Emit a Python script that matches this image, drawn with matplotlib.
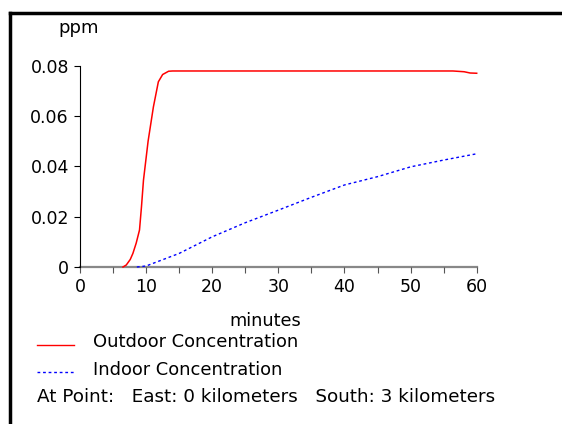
import matplotlib
matplotlib.use("Agg")
import matplotlib.pyplot as plt
from matplotlib.lines import Line2D
from matplotlib.ticker import MultipleLocator

# Data
out_t = [6.5, 7.0, 7.6, 8.0, 8.5, 9.0, 9.3, 9.6, 10.3, 11.1, 11.85, 12.5, 13.4, 14.0, 56.4, 58.1, 59.0, 60.0]
out_c = [0, 0.0008, 0.0030, 0.0054, 0.0095, 0.0147, 0.024, 0.0345, 0.050, 0.0636, 0.0736, 0.0765, 0.0778, 0.0779, 0.0779, 0.0776, 0.0771, 0.0770]

in_t = [8.6, 10, 15, 20, 25, 30, 35, 40, 45, 50, 55, 60]
in_c = [0, 0.0004, 0.0054, 0.0120, 0.0176, 0.0226, 0.0277, 0.0326, 0.0359, 0.0398, 0.0425, 0.0450]

x_ticks = [0, 10, 20, 30, 40, 50, 60]
y_ticks = [0, 0.02, 0.04, 0.06, 0.08]
y_labels = ["0", "0.02", "0.04", "0.06", "0.08"]

fig = plt.figure(figsize=(5.62, 4.24), dpi=100)
ax = fig.add_axes([80 / 562, 1 - 267 / 424, 396.7 / 562, 201.3 / 424])

ax.plot(out_t, out_c, color="#ff0000", lw=1.1, clip_on=False)
ax.plot(in_t, in_c, color="#0000ff", lw=1.0, ls=(0, (2, 2)), clip_on=False)

ax.set_xlim(0, 60)
ax.set_ylim(0, 0.08)
ax.set_xticks(x_ticks)
ax.set_xticklabels([str(v) for v in x_ticks])
ax.xaxis.set_minor_locator(MultipleLocator(5))
ax.set_yticks(y_ticks)
ax.set_yticklabels(y_labels)

for s in ["top", "right"]:
    ax.spines[s].set_visible(False)
ax.spines["left"].set_color("black")
ax.spines["left"].set_linewidth(0.8)
ax.spines["bottom"].set_color("#888888")
ax.spines["bottom"].set_linewidth(1.6)
ax.spines["bottom"].set_zorder(0)

ax.tick_params(axis="x", which="both", direction="out", length=4, width=0.8,
               color="#555555", labelsize=12.5, pad=4)
ax.tick_params(axis="y", direction="out", length=4, width=0.8, color="black",
               labelsize=12.5, pad=4)

fig.text(58 / 562, 1 - 28 / 424, "ppm", fontsize=13, va="center", ha="left")
fig.text(265 / 562, 1 - 321 / 424, "minutes", fontsize=12.8, va="center", ha="center")

# Legend
fig.add_artist(Line2D([37 / 562, 74 / 562], [1 - 345 / 424, 1 - 345 / 424], color="#ff0000", lw=1.0))
fig.add_artist(Line2D([37 / 562, 74 / 562], [1 - 372 / 424, 1 - 372 / 424], color="#0000ff", lw=1.0, ls=(0, (2, 2))))
fig.text(93 / 562, 1 - 342 / 424, "Outdoor Concentration", fontsize=12.9, va="center", ha="left")
fig.text(93 / 562, 1 - 370 / 424, "Indoor Concentration", fontsize=12.9, va="center", ha="left")
fig.text(37 / 562, 1 - 397 / 424, "At Point:   East: 0 kilometers   South: 3 kilometers",
         fontsize=13.2, va="center", ha="left")

# Border (top and left)
fig.add_artist(Line2D([10 / 562, 1.0], [1 - 13 / 424, 1 - 13 / 424], color="black", lw=2.5))
fig.add_artist(Line2D([10 / 562, 10 / 562], [0, 1 - 13 / 424], color="black", lw=2.5))

fig.savefig("out.png", dpi=100)
